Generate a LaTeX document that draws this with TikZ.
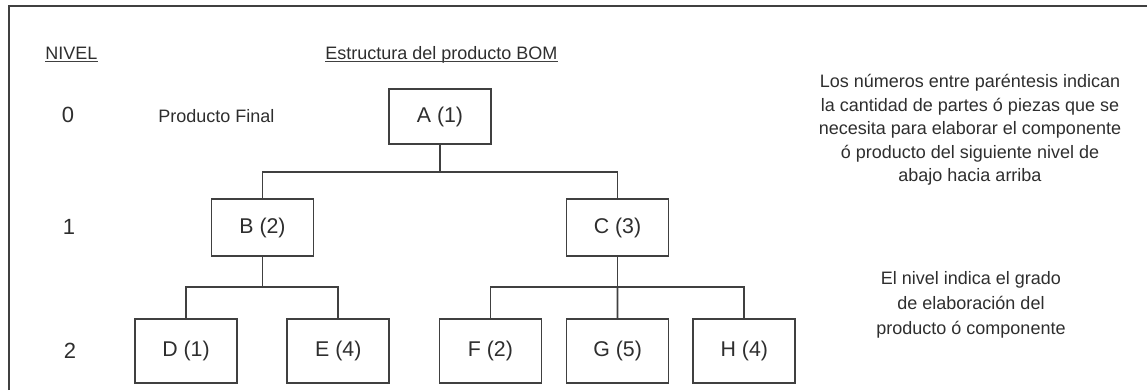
\documentclass[tikz,border=0pt]{standalone}
\usepackage{fontspec}
\setmainfont{Liberation Sans}
\definecolor{ink}{HTML}{2E2E2E}
\definecolor{rulegray}{HTML}{404040}
\begin{document}
\begin{tikzpicture}[x=0.75pt,y=-0.75pt,
  part/.style={draw=rulegray, line width=1.3pt, minimum width=76.5pt,
               inner sep=0pt, text=ink, font=\fontsize{16}{19}\selectfont},
  link/.style={draw=rulegray, line width=1.3pt},
  lbl/.style={text=ink, inner sep=0pt, font=\fontsize{13.5}{16}\selectfont},
  lvl/.style={text=ink, inner sep=0pt, font=\fontsize{16.5}{19}\selectfont},
  note/.style={text=ink, inner sep=0pt, align=center}]
\useasboundingbox (0,0) rectangle (1147,390);
% open frame: left and top edges
\draw[rulegray, line width=1.5pt] (9,390) -- (9,6) -- (1147,6);

% headings
\node[lbl, anchor=base west] (nivel) at (45,59) {NIVEL};
\draw[rulegray, line width=0.9pt] ([yshift=-2pt]nivel.base west) -- ([yshift=-2pt]nivel.base east);
\node[lbl, anchor=base west] (bom) at (325,59) {Estructura del producto BOM};
\draw[rulegray, line width=0.9pt] ([yshift=-2pt]bom.base west) -- ([yshift=-2pt]bom.base east);

% level numbers
\node[lvl] (l0) at (68,115) {0};
\node[lvl] (l1) at (69,227) {1};
\node[lvl] (l2) at (70,351) {2};
\node[lbl, anchor=base west] (pf) at (158,122) {Producto Final};

% product structure
\node[part, minimum height=41.25pt] (A) at (440,116.5) {A (1)};
\node[part, minimum height=42.75pt] (B) at (262.5,227.5) {B (2)};
\node[part, minimum height=42.75pt] (C) at (617.5,227.5) {C (3)};
\node[part, minimum height=48pt] (D) at (186,351) {D (1)};
\node[part, minimum height=48pt] (E) at (338.3,351) {E (4)};
\node[part, minimum height=48pt] (F) at (490.4,351) {F (2)};
\node[part, minimum height=48pt] (G) at (617.6,351) {G (5)};
\node[part, minimum height=48pt] (H) at (744.3,351) {H (4)};

\coordinate (jA) at (440,172);
\coordinate (jB) at (262.5,287);
\coordinate (jC) at (617.5,287);

\draw[link] (A.south) -- (jA);
\draw[link] (B.north) |- (jA) -| (C.north);
\draw[link] (B.south) -- (jB);
\draw[link] (D.north) |- (jB) -| (E.north);
\draw[link] (C.south) -- (jC);
\draw[link] (F.north) |- (jC) -| (H.north);
\draw[link] (jC) -- (G.north);

% explanatory notes
\node[note, font=\fontsize{13.5}{17.6}\selectfont] (n1) at (970,130)
  {Los números entre paréntesis indican\\la cantidad de partes ó piezas que se\\necesita para elaborar el componente\\ó producto del siguiente nivel de\\abajo hacia arriba};
\node[note, font=\fontsize{13.5}{19}\selectfont] (n2) at (971,305)
  {El nivel indica el grado\\de elaboración del\\producto ó componente};
\end{tikzpicture}
\end{document}
